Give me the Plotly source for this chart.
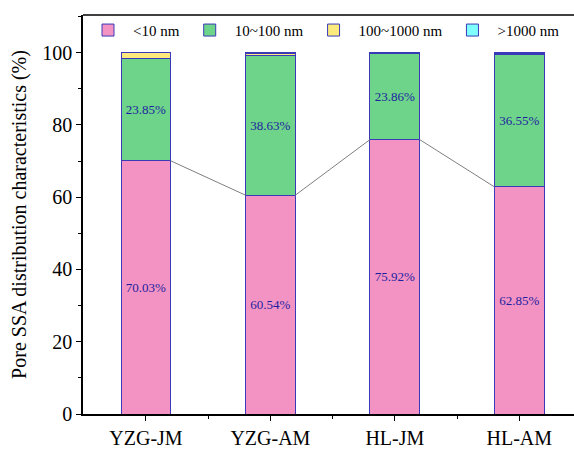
import plotly.graph_objects as go

categories = ["YZG-JM", "YZG-AM", "HL-JM", "HL-AM"]
series_names = ["<10 nm", "10~100 nm", "100~1000 nm", ">1000 nm"]
lt10 = [70.03, 60.54, 75.92, 62.85]
s10_100 = [28.42, 38.63, 23.86, 36.55]
s100_1000 = [1.45, 0.63, 0.12, 0.40]
gt1000 = [0.10, 0.20, 0.10, 0.20]
lt10_labels = ["70.03%", "60.54%", "75.92%", "62.85%"]
s10_100_labels = ["23.85%", "38.63%", "23.86%", "36.55%"]

colors = ["#F293C4", "#6DD48A", "#FCEA7C", "#80FFFF"]
edge = "#3A3AB8"
font_family = "Liberation Serif, Times New Roman, serif"

x = list(range(len(categories)))
values = [lt10, s10_100, s100_1000, gt1000]
labels = [lt10_labels, s10_100_labels, None, None]

fig = go.Figure()
for name, vals, col, lab in zip(series_names, values, colors, labels):
    fig.add_trace(go.Bar(
        x=x, y=vals, name=name, width=0.4,
        marker=dict(color=col, line=dict(color=edge, width=1)),
        text=lab, textposition="inside" if lab else "none",
        insidetextanchor="middle", textangle=0,
        textfont=dict(family=font_family, size=13, color="#1E1EA0"),
    ))

# connecting lines between tops of the <10 nm segments
hw = 0.2
lx, ly = [], []
for i in range(len(categories) - 1):
    lx += [x[i] + hw, x[i + 1] - hw, None]
    ly += [lt10[i], lt10[i + 1], None]
fig.add_trace(go.Scatter(x=lx, y=ly, mode="lines", line=dict(color="#7F7F7F", width=1),
                         showlegend=False, hoverinfo="skip"))

fig.update_layout(
    barmode="stack",
    width=574, height=451,
    margin=dict(l=83, r=0, t=15, b=37, autoexpand=False),
    paper_bgcolor="white", plot_bgcolor="white",
    font=dict(family=font_family, color="black"),
    legend=dict(orientation="h", x=0.0, y=1.003, xanchor="left", yanchor="top",
                font=dict(size=15, family=font_family), bgcolor="rgba(0,0,0,0)",
                traceorder="normal", itemwidth=40),
    xaxis=dict(range=[-0.506, 3.44], tickmode="array", tickvals=x, ticktext=categories,
               automargin=False,
               showline=True, linecolor="black", linewidth=1.5, ticks="outside",
               ticklen=5, tickwidth=1.2, tickcolor="black",
               tickfont=dict(size=20, family=font_family),
               minor=dict(tickvals=[0.5, 1.5, 2.5], ticks="outside", ticklen=3,
                          tickcolor="black", tickwidth=1.2),
               showgrid=False, zeroline=False),
    yaxis=dict(range=[0, 110.4], tickvals=[0, 20, 40, 60, 80, 100],
               automargin=False,
               showline=True, linecolor="black", linewidth=1.5, ticks="outside",
               ticklen=5, tickwidth=1.2, tickcolor="black",
               tickfont=dict(size=20, family=font_family),
               minor=dict(dtick=10, ticks="outside", ticklen=3, tickcolor="black", tickwidth=1.2),
               title=dict(text="Pore SSA distribution characteristics (%)",
                          font=dict(size=20, family=font_family), standoff=10),
               showgrid=False, zeroline=False),
    shapes=[dict(type="line", xref="paper", yref="paper", x0=0, x1=1, y0=1, y1=1,
                 line=dict(color="black", width=1.5))],
)

fig.write_html("out.html", config={"displayModeBar": False},
               post_script="document.body.style.margin='0';document.body.style.overflow='hidden';")
